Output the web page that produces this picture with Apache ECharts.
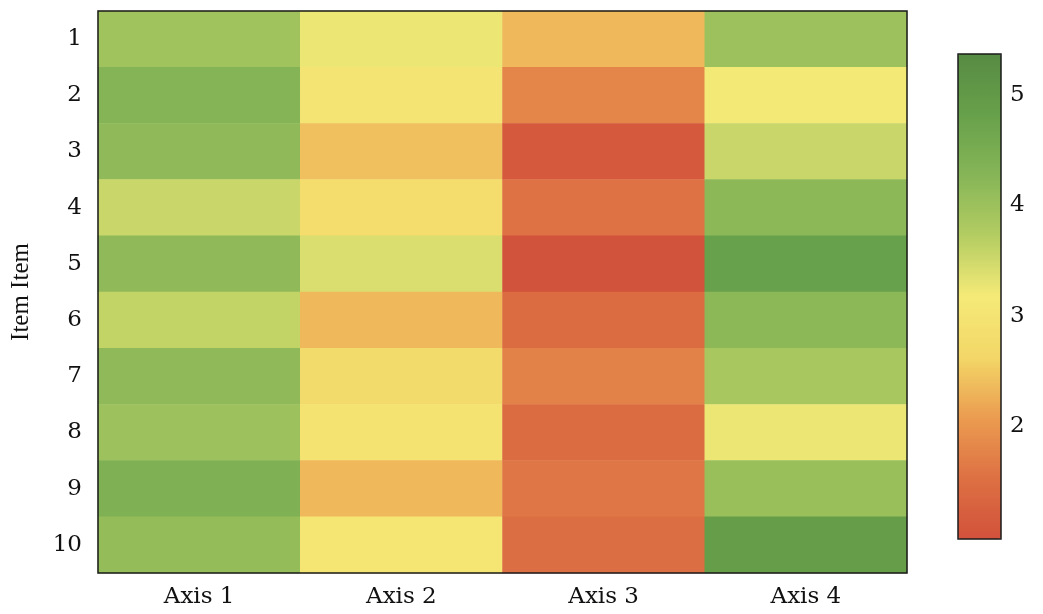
<!DOCTYPE html>
<html>
<head>
<meta charset="utf-8">
<script src="https://cdn.jsdelivr.net/npm/echarts@6/dist/echarts.min.js"></script>
<style>
html,body{margin:0;padding:0;background:#fff;}
#chart{width:1043px;height:614px;}
</style>
</head>
<body>
<div id="chart"></div>
<script>
const columns = ['Axis 1', 'Axis 2', 'Axis 3', 'Axis 4'];
const rows = ['1', '2', '3', '4', '5', '6', '7', '8', '9', '10'];
const axis1 = [3.95, 4.3, 4.15, 3.55, 4.15, 3.6, 4.15, 4.0, 4.4, 4.1];
const axis2 = [3.25, 3.0, 2.4, 2.8, 3.4, 2.35, 2.75, 2.95, 2.35, 3.05];
const axis3 = [2.35, 1.8, 1.1, 1.55, 1.0, 1.45, 1.75, 1.45, 1.6, 1.5];
const axis4 = [4.0, 3.2, 3.55, 4.2, 4.8, 4.2, 3.85, 3.25, 4.05, 4.9];
const colorbarTicks = [2, 3, 4, 5];
const colorMin = 0.98, colorMax = 5.37;
const palette = ['#d2523b', '#dd7043', '#eb9c50', '#f3d767', '#f5ea78', '#b4cd62', '#86b557', '#67a04a', '#578b43'];

const cols = [axis1, axis2, axis3, axis4];
const data = [];
cols.forEach((arr, ci) => arr.forEach((v, ri) => data.push([ci, ri, v])));

const FONT = 'DejaVu Serif';
const chart = echarts.init(document.getElementById('chart'));
const G = {left: 98, top: 11, width: 809, height: 562};
const CB = {left: 958, top: 54, width: 43, height: 485};
chart.setOption({
  animation: false,
  textStyle: {fontFamily: FONT},
  grid: [
    {left: G.left, top: G.top, width: G.width, height: G.height},
    {left: CB.left, top: CB.top, width: CB.width, height: CB.height}
  ],
  xAxis: [
    {type: 'category', data: columns, gridIndex: 0,
     axisLine: {show: false}, axisTick: {show: false},
     axisLabel: {fontFamily: FONT, fontSize: 23, color: '#111', margin: 13}},
    {type: 'value', gridIndex: 1, show: false, min: 0, max: 1}
  ],
  yAxis: [
    {type: 'category', data: rows, inverse: true, gridIndex: 0,
     axisLine: {show: false}, axisTick: {show: false},
     axisLabel: {fontFamily: FONT, fontSize: 23, color: '#111', margin: 16},
     name: 'Item Item', nameLocation: 'middle', nameRotate: 90, nameGap: 64,
     nameTextStyle: {fontFamily: 'Liberation Serif', fontSize: 25, color: '#111'}},
    {type: 'value', gridIndex: 1, position: 'right', min: colorMin, max: colorMax,
     splitLine: {show: false}, axisLine: {show: false},
     axisTick: {show: true, length: 7, lineStyle: {color: '#222'}, customValues: colorbarTicks},
     axisLabel: {fontFamily: FONT, fontSize: 23, color: '#111', margin: 9, customValues: colorbarTicks}}
  ],
  visualMap: {
    type: 'continuous', min: colorMin, max: colorMax, calculable: false,
    seriesIndex: 0, orient: 'vertical', left: CB.left, top: CB.top,
    itemWidth: CB.width, itemHeight: CB.height, padding: 0, text: ['', ''],
    showLabel: false, inRange: {color: palette}
  },
  series: [{
    type: 'heatmap', xAxisIndex: 0, yAxisIndex: 0, data: data,
    itemStyle: {borderWidth: 0}, emphasis: {disabled: true}
  }],
  graphic: [
    {type: 'rect', shape: {x: G.left, y: G.top, width: G.width, height: G.height},
     style: {fill: null, stroke: '#1a1a1a', lineWidth: 1.5}, z: 100},
    {type: 'rect', shape: {x: CB.left, y: CB.top, width: CB.width, height: CB.height},
     style: {fill: null, stroke: '#1a1a1a', lineWidth: 1.5}, z: 100}
  ]
});
</script>
</body>
</html>
